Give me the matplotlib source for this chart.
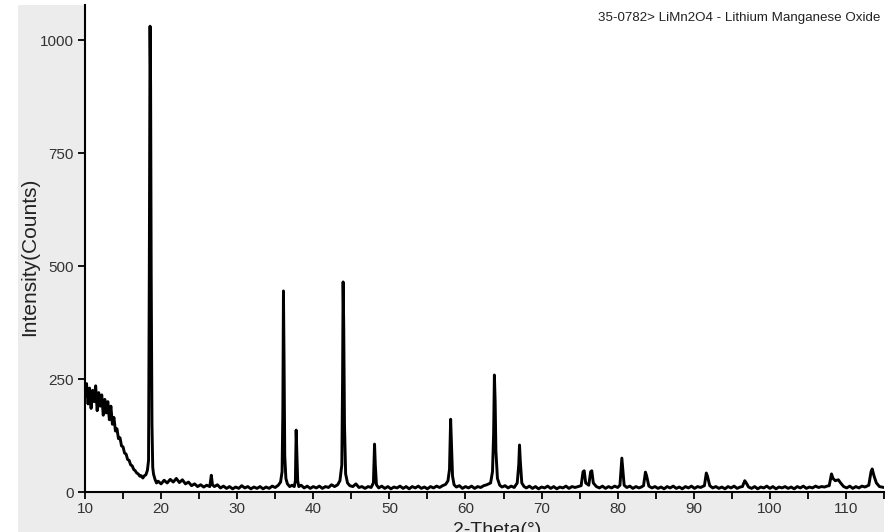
import matplotlib.pyplot as plt
from matplotlib.patches import Rectangle

# diffraction pattern: 2-theta (deg) and counts
two_theta = [
    10.0, 10.2, 10.4, 10.6, 10.8, 11.0, 11.2, 11.4, 11.6, 11.8,
    12.0, 12.2, 12.4, 12.6, 12.8, 13.0, 13.2, 13.4, 13.6, 13.8,
    14.0, 14.2, 14.4, 14.6, 14.8, 15.0, 15.2, 15.4, 15.6, 15.8,
    16.0, 16.2, 16.4, 16.6, 16.8, 17.0, 17.2, 17.4, 17.6, 17.8,
    18.0, 18.2, 18.35, 18.45, 18.55, 18.62, 18.7, 18.8, 18.9, 19.0,
    19.2, 19.4, 19.6, 20.0, 20.4, 20.8, 21.2, 21.6, 22.0, 22.4,
    22.8, 23.2, 23.6, 24.0, 24.4, 24.8, 25.2, 25.6, 26.0, 26.4,
    26.6, 26.75, 27.0, 27.4, 27.8, 28.2, 28.6, 29.0, 29.4, 29.8,
    30.2, 30.6, 31.0, 31.4, 31.8, 32.2, 32.6, 33.0, 33.4, 33.8,
    34.2, 34.6, 35.0, 35.4, 35.7, 35.9, 36.0, 36.08, 36.16, 36.25,
    36.4, 36.6, 36.9, 37.2, 37.5, 37.65, 37.75, 37.85, 37.95, 38.1,
    38.4, 38.8, 39.2, 39.6, 40.0, 40.4, 40.8, 41.2, 41.6, 42.0,
    42.4, 42.8, 43.2, 43.5, 43.75, 43.85, 43.92, 44.0, 44.1, 44.25,
    44.5, 44.8, 45.2, 45.6, 46.0, 46.4, 46.8, 47.2, 47.6, 47.9,
    48.05, 48.15, 48.3, 48.6, 49.0, 49.4, 49.8, 50.2, 50.6, 51.0,
    51.4, 51.8, 52.2, 52.6, 53.0, 53.4, 53.8, 54.2, 54.6, 55.0,
    55.4, 55.8, 56.2, 56.6, 57.0, 57.4, 57.7, 57.9, 58.05, 58.15,
    58.3, 58.5, 58.8, 59.2, 59.6, 60.0, 60.4, 60.8, 61.2, 61.6,
    62.0, 62.4, 62.8, 63.3, 63.55, 63.7, 63.8, 63.9, 64.0, 64.2,
    64.5, 64.8, 65.2, 65.6, 66.0, 66.4, 66.8, 67.0, 67.1, 67.2,
    67.4, 67.7, 68.0, 68.4, 68.8, 69.2, 69.6, 70.0, 70.4, 70.8,
    71.2, 71.6, 72.0, 72.4, 72.8, 73.2, 73.6, 74.0, 74.4, 74.8,
    75.2, 75.45, 75.6, 75.8, 76.2, 76.45, 76.6, 76.8, 77.2, 77.6,
    78.0, 78.4, 78.8, 79.2, 79.6, 80.0, 80.3, 80.55, 80.65, 80.85,
    81.2, 81.6, 82.0, 82.4, 82.8, 83.1, 83.4, 83.65, 83.8, 84.1,
    84.5, 84.9, 85.3, 85.7, 86.1, 86.5, 86.9, 87.3, 87.7, 88.1,
    88.5, 88.9, 89.3, 89.7, 90.1, 90.5, 90.9, 91.4, 91.65, 91.8,
    92.1, 92.5, 92.9, 93.3, 93.7, 94.1, 94.5, 94.9, 95.3, 95.7,
    96.1, 96.4, 96.7, 96.9, 97.2, 97.6, 98.0, 98.4, 98.8, 99.2,
    99.6, 100.0, 100.4, 100.8, 101.2, 101.6, 102.0, 102.4, 102.8, 103.2,
    103.6, 104.0, 104.4, 104.8, 105.2, 105.6, 106.0, 106.4, 106.8, 107.2,
    107.5, 107.8, 108.1, 108.3, 108.6, 109.0, 109.3, 109.7, 110.1, 110.5,
    110.9, 111.3, 111.7, 112.1, 112.5, 113.0, 113.3, 113.45, 113.7, 114.0,
    114.4, 114.7, 115.0,
]
counts = [
    215, 240, 195, 230, 185, 225, 200, 235, 180, 220,
    190, 215, 170, 205, 175, 200, 160, 190, 150, 165,
    135, 140, 118, 120, 102, 100, 86, 84, 72, 70,
    60, 58, 50, 47, 42, 40, 35, 36, 31, 36,
    38, 48, 70, 484, 1031, 905, 480, 150, 55, 40,
    28, 20, 24, 18, 26, 20, 28, 22, 30, 21,
    27, 18, 22, 14, 18, 12, 16, 11, 15, 12,
    37, 16, 12, 16, 9, 13, 8, 12, 7, 11,
    8, 14, 9, 12, 7, 11, 8, 12, 7, 11,
    8, 13, 10, 15, 22, 45, 180, 445, 290, 80,
    30, 18, 12, 15, 12, 25, 137, 80, 25, 12,
    15, 9, 13, 8, 12, 9, 13, 8, 12, 10,
    16, 12, 16, 25, 60, 250, 465, 370, 150, 40,
    20, 14, 12, 18, 10, 12, 8, 12, 10, 20,
    106, 60, 16, 9, 13, 8, 12, 7, 11, 9,
    13, 8, 12, 7, 12, 9, 13, 8, 11, 7,
    12, 9, 13, 10, 14, 17, 25, 50, 161, 110,
    35, 16, 11, 14, 8, 12, 9, 13, 8, 12,
    10, 14, 16, 20, 45, 130, 259, 200, 90, 30,
    15, 11, 14, 9, 13, 10, 20, 60, 104, 70,
    20, 12, 9, 13, 8, 12, 7, 11, 9, 13,
    8, 12, 7, 11, 9, 13, 8, 12, 10, 12,
    14, 45, 47, 20, 15, 45, 47, 20, 12, 9,
    13, 8, 12, 9, 13, 10, 15, 75, 55, 15,
    10, 13, 8, 12, 9, 11, 14, 44, 36, 13,
    9, 12, 8, 11, 7, 12, 9, 13, 8, 11,
    7, 12, 9, 13, 8, 12, 10, 14, 42, 35,
    14, 9, 12, 8, 11, 7, 12, 9, 13, 8,
    11, 12, 25, 20, 11, 8, 12, 7, 11, 9,
    13, 8, 12, 7, 11, 9, 12, 8, 11, 7,
    12, 9, 13, 8, 11, 9, 13, 10, 12, 11,
    13, 14, 40, 30, 25, 27, 20, 12, 9, 13,
    8, 12, 9, 13, 11, 15, 45, 51, 35, 20,
    12, 11, 10,
]

y_ticks = [0, 250, 500, 750, 1000]
phase_label = "35-0782> LiMn2O4 - Lithium Manganese Oxide"

plt.rcParams['font.family'] = ['Liberation Sans', 'DejaVu Sans']

fig = plt.figure(figsize=(8.94, 5.32), dpi=100, facecolor='white')
W, H = 894, 532
# grey frame behind the axes
fig.patches.append(Rectangle((18 / W, 0), (884 - 18) / W, (H - 5) / H,
                             transform=fig.transFigure, facecolor='#ececec',
                             edgecolor='none', zorder=-10))

ax = fig.add_axes([85 / W, (H - 492) / H, (884 - 85) / W, (492 - 5) / H])
ax.set_facecolor('white')
ax.plot(two_theta, counts, color='black', linewidth=2.1)

ax.set_xlim(10, 115)
ax.set_ylim(0, 1078)
ax.set_xticks(range(10, 111, 10))
ax.set_xticks(range(15, 116, 10), minor=True)
ax.set_yticks(y_ticks)

for side in ['top', 'right']:
    ax.spines[side].set_visible(False)
for side in ['left', 'bottom']:
    ax.spines[side].set_linewidth(1.5)

ax.tick_params(axis='both', which='both', direction='out', length=5, width=1.3,
               color='black', labelcolor='#333333', labelsize=11)
ax.tick_params(axis='y', pad=3)
ax.tick_params(axis='x', pad=2)

fig.text(30 / W, (H - 257) / H, "Intensity(Counts)", rotation=90, ha='center',
         va='center', fontsize=15, color='#222222')
fig.text(497 / W, -3 / H, "2-Theta(°)", ha='center', va='baseline',
         fontsize=14, color='#222222')
ax.text(0.995, 0.985, phase_label, transform=ax.transAxes, ha='right', va='top',
        fontsize=9.6, color='#222222')

fig.savefig('out.png', dpi=100, facecolor='white')
